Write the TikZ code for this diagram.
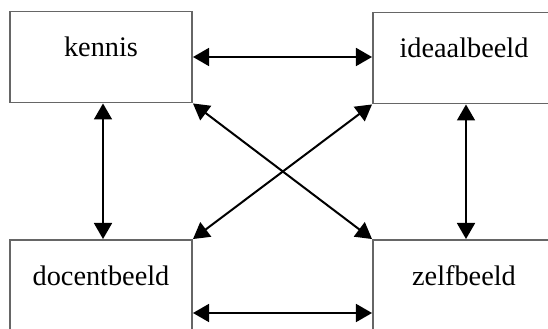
\documentclass[tikz,border=0pt]{standalone}
\usepackage{fontspec}
\setmainfont{Liberation Serif}
\usetikzlibrary{arrows.meta}
\usetikzlibrary{calc}
\tikzset{
    beeld/.style={draw=black!60,line width=0.8pt,fill=white,minimum width=77.2pt,minimum height=38.6pt,
        inner sep=0pt,text height=2ex,text depth=2ex,font=\fontsize{12}{14}\selectfont},
    pijl/.style={{Triangle[length=6.8pt,width=7.6pt]}-{Triangle[length=6.8pt,width=7.6pt]},line width=0.85pt,black},
}
\begin{document}
\begin{tikzpicture}[x=0.424pt,y=-0.424pt]
\useasboundingbox (0,0) rectangle (548,329);
\clip (0,0) rectangle (548,329);
\node[beeld] (kennis) at (101,57) {kennis};
\node[beeld] (ideaal) at (464,58) {ideaalbeeld};
\node[beeld] (docent) at (101,285.5) {docentbeeld};
\node[beeld] (zelf) at (464,285.5) {zelfbeeld};
\draw[pijl] (kennis.east) -- (kennis.east -| ideaal.west);
\draw[pijl] ($(docent.east)+(0,27.5)$) -- ($(docent.east -| zelf.west)+(0,27.5)$);
\draw[pijl] ($(kennis.south)+(2,0)$) -- ($(docent.north)+(2,0)$);
\draw[pijl] ($(ideaal.south)+(2,0)$) -- ($(zelf.north)+(2,0)$);
\draw[pijl] (kennis.south east) -- (zelf.north west);
\draw[pijl] (docent.north east) -- (ideaal.south west);
%\draw[help lines] (0,0) grid[step=50] (548,329);
\end{tikzpicture}
\end{document}
